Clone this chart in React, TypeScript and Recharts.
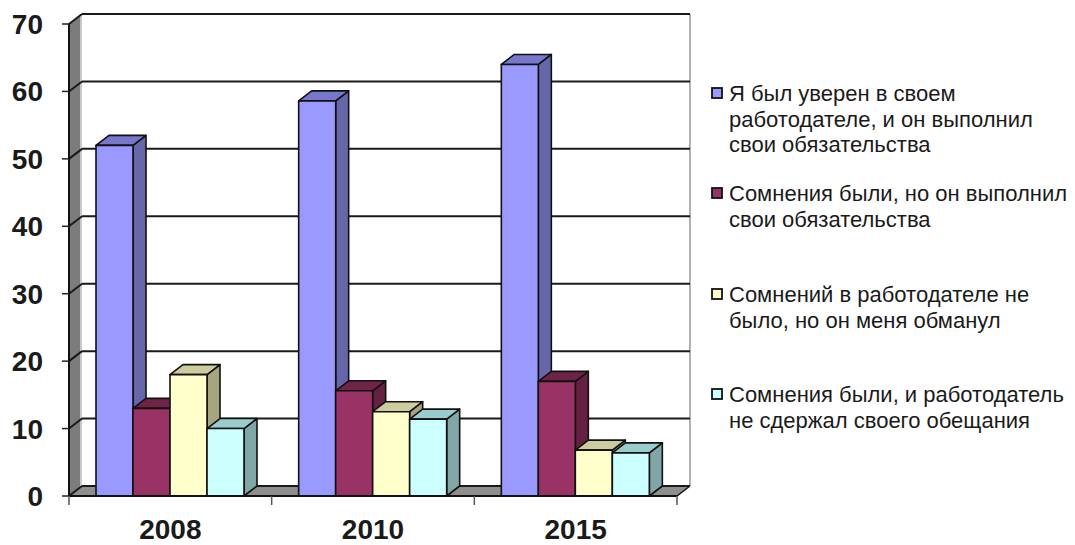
import { BarChart, Bar, XAxis, YAxis, CartesianGrid } from 'recharts'

const YEARS = ['2008', '2010', '2015']
const TRUSTED_KEPT = [52, 58.6, 64]
const DOUBT_KEPT = [13, 15.6, 17]
const NO_DOUBT_CHEATED = [18, 12.5, 6.8]
const DOUBT_BROKEN = [10, 11.4, 6.4]
const Y_TICKS = [0, 10, 20, 30, 40, 50, 60, 70]

const LEGEND_LINES = [
  ['Я был уверен в своем', 'работодателе, и он выполнил', 'свои обязательства'],
  ['Сомнения были, но он выполнил', 'свои обязательства'],
  ['Сомнений в работодателе не', 'было, но он меня обманул'],
  ['Сомнения были, и работодатель', 'не сдержал своего обещания'],
]

// front / top / side colours of the boxes
const COLORS = [
  { front: '#9999ff', top: '#7777cc', side: '#6666a8' },
  { front: '#993366', top: '#6e2347', side: '#662040' },
  { front: '#ffffcc', top: '#cccc9f', side: '#a5a57f' },
  { front: '#ccffff', top: '#99cccc', side: '#80a6a6' },
]

const KEYS = ['s1', 's2', 's3', 's4']

const data = YEARS.map((year, i) => ({
  year,
  s1: TRUSTED_KEPT[i],
  s2: DOUBT_KEPT[i],
  s3: NO_DOUBT_CHEATED[i],
  s4: DOUBT_BROKEN[i],
}))

// layout
const W = 1075
const H = 545
const PLOT_L = 69
const PLOT_T = 24
const PLOT_R = 677
const PLOT_B = 496
const DX = 13
const DY = 10
const BAND = (PLOT_R - PLOT_L) / YEARS.length
const FONT = '"Liberation Sans", Arial, sans-serif'
const INK = '#111'

function Box3D(props: any) {
  const { x, y, width, height, colors } = props
  if (!height || height <= 0) return null
  const r = x + width
  const b = y + height
  return (
    <g stroke={INK} strokeWidth={1.6} strokeLinejoin="round">
      <polygon
        points={`${r},${y} ${r + DX},${y - DY} ${r + DX},${b - DY} ${r},${b}`}
        fill={colors.side}
      />
      <polygon
        points={`${x},${y} ${x + DX},${y - DY} ${r + DX},${y - DY} ${r},${y}`}
        fill={colors.top}
      />
      <rect x={x} y={y} width={width} height={height} fill={colors.front} />
    </g>
  )
}

function GridLine(props: any) {
  const { x1, y1, x2, y2 } = props
  return (
    <g stroke="#1a1a1a" strokeWidth={2}>
      <line x1={x1} y1={y1} x2={x1 + DX} y2={y1 - DY} />
      <line x1={x1 + DX} y1={y1 - DY} x2={x2 + DX} y2={y2 - DY} />
    </g>
  )
}

function YearTick(props: any) {
  const { x, index } = props
  const left = x - BAND / 2
  return (
    <g>
      <line x1={left} y1={PLOT_B} x2={left} y2={PLOT_B + 9} stroke="#555" strokeWidth={1.5} />
      {index === YEARS.length - 1 && (
        <line x1={x + BAND / 2} y1={PLOT_B} x2={x + BAND / 2} y2={PLOT_B + 9} stroke="#555" strokeWidth={1.5} />
      )}
      <text
        x={x}
        y={PLOT_B + 43}
        textAnchor="middle"
        fontFamily={FONT}
        fontSize={28}
        fontWeight="bold"
        fill="#1a1a1a"
      >
        {props.payload.value}
      </text>
    </g>
  )
}

function Walls() {
  return (
    <svg width={W} height={H} style={{ position: 'absolute', left: 0, top: 0 }}>
      <rect
        x={PLOT_L + DX}
        y={PLOT_T - DY}
        width={PLOT_R - PLOT_L}
        height={PLOT_B - PLOT_T}
        fill="#fff"
      />
      <line
        x1={PLOT_R + DX}
        y1={PLOT_T - DY}
        x2={PLOT_R + DX}
        y2={PLOT_B - DY}
        stroke="#999"
        strokeWidth={1.5}
      />
      <polygon
        points={`${PLOT_L},${PLOT_T} ${PLOT_L + DX},${PLOT_T - DY} ${PLOT_L + DX},${PLOT_B - DY} ${PLOT_L},${PLOT_B}`}
        fill="#7c7c7c"
      />
      <line
        x1={PLOT_L + DX - 1}
        y1={PLOT_T - DY}
        x2={PLOT_L + DX - 1}
        y2={PLOT_B - DY}
        stroke="#c8c8c8"
        strokeWidth={2}
      />
      <polygon
        points={`${PLOT_L},${PLOT_B} ${PLOT_R},${PLOT_B} ${PLOT_R + DX},${PLOT_B - DY} ${PLOT_L + DX},${PLOT_B - DY}`}
        fill="#8e8e8e"
      />
      <line
        x1={PLOT_R}
        y1={PLOT_B}
        x2={PLOT_R + DX}
        y2={PLOT_B - DY}
        stroke={INK}
        strokeWidth={1.5}
      />
    </svg>
  )
}

const LEGEND_BASELINES = [101, 201, 302, 402]
const LEGEND_LINE_H = 25.7

function LegendBox() {
  return (
    <svg width={W} height={H} style={{ position: 'absolute', left: 0, top: 0 }}>
      {LEGEND_LINES.map((lines, i) => {
        const base = LEGEND_BASELINES[i]
        return (
          <g key={i}>
            <rect
              x={712}
              y={base - 13}
              width={10}
              height={10}
              fill={COLORS[i].front}
              stroke={INK}
              strokeWidth={1.8}
            />
            <text fontFamily={FONT} fontSize={22} fill="#1a1a1a">
              {lines.map((line, j) => (
                <tspan key={j} x={729} y={base + j * LEGEND_LINE_H}>
                  {line}
                </tspan>
              ))}
            </text>
          </g>
        )
      })}
    </svg>
  )
}

export default function App() {
  return (
    <div style={{ position: 'absolute', left: 0, top: 0, width: W, height: H, background: '#fff' }}>
      <Walls />
      <div style={{ position: 'absolute', left: 0, top: 0 }}>
        <BarChart
          width={W}
          height={H}
          data={data}
          margin={{ top: PLOT_T, right: W - PLOT_R, bottom: 0, left: 0 }}
          barCategoryGap={27}
          barGap={0}
        >
          <CartesianGrid vertical={false} horizontal={(p: any) => <GridLine {...p} />} />
          <XAxis
            dataKey="year"
            height={H - PLOT_B}
            axisLine={{ stroke: INK, strokeWidth: 2 }}
            tickLine={false}
            tick={(p: any) => <YearTick {...p} />}
            interval={0}
          />
          <YAxis
            width={PLOT_L}
            domain={[0, 70]}
            ticks={Y_TICKS}
            interval={0}
            axisLine={{ stroke: INK, strokeWidth: 2 }}
            tickLine={{ stroke: '#222', strokeWidth: 1.5 }}
            tickSize={7}
            tickMargin={19}
            tick={{ fontFamily: FONT, fontSize: 28, fontWeight: 'bold', fill: '#1a1a1a' }}
          />
          {KEYS.map((k, i) => (
            <Bar
              key={k}
              dataKey={k}
              name={LEGEND_LINES[i].join(' ')}
              isAnimationActive={false}
              shape={(p: any) => <Box3D {...p} colors={COLORS[i]} />}
            />
          ))}
        </BarChart>
      </div>
      <LegendBox />
    </div>
  )
}
